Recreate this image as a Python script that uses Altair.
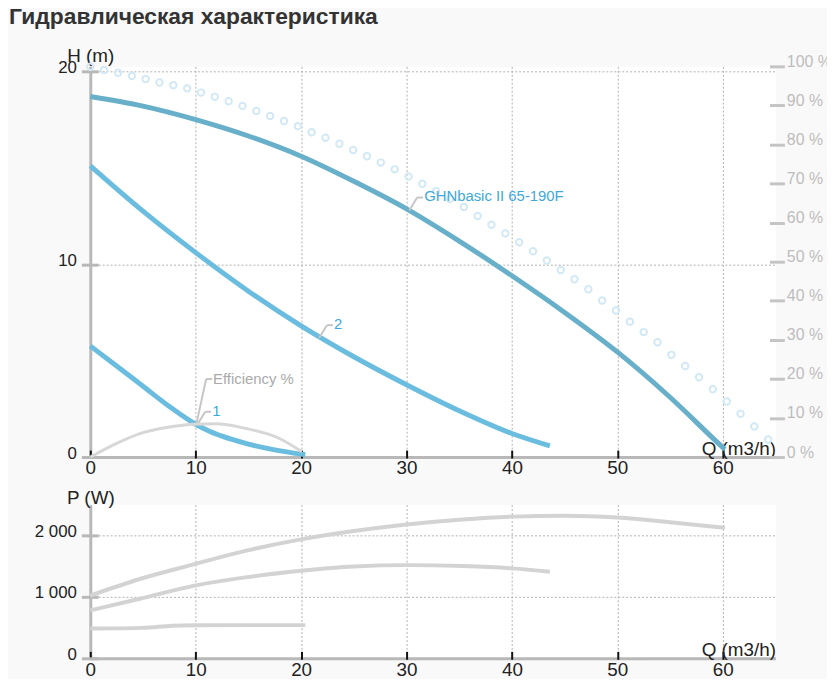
import altair as alt
import pandas as pd

FONT = "Liberation Sans"
TITLE = "Гидравлическая характеристика"

# ---------- top panel: Q (m3/h) vs H (m) ----------
main_q = [0, 5, 10, 15, 20, 25, 30, 35, 40, 45, 50, 55, 60, 60.2]
main_h = [18.7, 18.2, 17.5, 16.65, 15.6, 14.3, 12.87, 11.2, 9.4, 7.5, 5.45, 3.1, 0.5, 0.4]

c2_q = [0, 5, 10, 15, 20, 25, 30, 35, 40, 43.6]
c2_h = [15.1, 12.75, 10.6, 8.6, 6.8, 5.2, 3.75, 2.4, 1.22, 0.58]

c1_q = [0, 2.5, 5, 7.5, 10, 11.25, 12.5, 15, 17.5, 20, 20.4]
c1_h = [5.76, 4.72, 3.67, 2.62, 1.7, 1.35, 1.08, 0.67, 0.37, 0.15, 0.12]

eff_q = [0, 2.5, 4.7, 7.5, 9.9, 11.9, 14.7, 17.9, 20.07]
eff_pct = [0, 3.5, 6.0, 7.7, 8.4, 8.5, 7.35, 4.8, 1.35]

ring_q = [0.00, 1.31, 2.63, 3.94, 5.25, 6.56, 7.88, 9.19, 10.50, 11.81, 13.13, 14.44,
          15.75, 17.06, 18.38, 19.69, 21.00, 22.31, 23.63, 24.94, 26.25, 27.56, 28.88,
          30.19, 31.50, 32.81, 34.13, 35.44, 36.75, 38.06, 39.38, 40.69, 42.00, 43.31,
          44.63, 45.94, 47.25, 48.56, 49.88, 51.19, 52.50, 53.81, 55.13, 56.44, 57.75,
          59.06, 60.38, 61.69, 63.00, 64.31]
ring_h = [20.24, 20.07, 19.93, 19.76, 19.6, 19.42, 19.28, 19.12, 18.9, 18.68, 18.45, 18.21,
          17.95, 17.69, 17.43, 17.16, 16.84, 16.56, 16.25, 15.92, 15.6, 15.27, 14.92,
          14.55, 14.17, 13.8, 13.38, 12.97, 12.5, 12.05, 11.6, 11.14, 10.67, 10.19,
          9.7, 9.22, 8.7, 8.12, 7.6, 7.02, 6.48, 5.95, 5.3, 4.72, 4.14,
          3.52, 2.88, 2.24, 1.58, 0.91]

label_text = ["1", "2", "GHNbasic II 65-190F"]
label_q = [10.15, 21.7, 30.26]
label_h = [1.68, 6.17, 12.79]

eff_label_text = ["Efficiency %"]
eff_label_q = [10.05]
eff_label_h = [1.68]

# ---------- bottom panel: Q (m3/h) vs P (W) ----------
pa_q = [0, 4.7, 9.9, 14.7, 20, 25, 30, 35, 40, 45, 50, 55.2, 60.2]
pa_w = [1021, 1290, 1532, 1747, 1935, 2070, 2177, 2255, 2305, 2318, 2290, 2210, 2124]
pb_q = [0, 4.7, 9.9, 14.7, 20, 25, 30, 35.4, 40, 43.6]
pb_w = [779, 968, 1183, 1317, 1425, 1495, 1516, 1500, 1463, 1409]
pc_q = [0, 5, 7.8, 10, 15, 20.4]
pc_w = [484, 495, 530, 537, 540, 540]

x_ticks = [0, 10, 20, 30, 40, 50, 60]
h_ticks = [0, 10, 20]
pct_ticks = [0, 10, 20, 30, 40, 50, 60, 70, 80, 90, 100]
p_ticks = [0, 1000, 2000]

W = 691
H_TOP = 394
H_BOT = 155


def grid_props():
    return dict(
        grid=True,
        gridColor={"condition": {"test": "datum.value === 0", "value": "#b8b8b8"}, "value": "#b0b0b0"},
        gridWidth={"condition": {"test": "datum.value === 0", "value": 3}, "value": 1},
        gridDash={"condition": {"test": "datum.value === 0", "value": []}, "value": [2, 2]},
    )


def x_enc():
    return alt.X(
        "q:Q",
        scale=alt.Scale(domain=[0, 65], nice=False),
        title="Q (m3/h)",
        axis=alt.Axis(
            values=x_ticks, offset=-7, tickSize=8, tickColor="#111111", tickWidth=2,
            domain=False, labelPadding=1, labelFontSize=19, labelColor="#222222",
            labelFlush=False, titleX=W, titleY=4, titleAlign="right",
            titleBaseline="alphabetic", titleFontSize=19, titleFontWeight="normal",
            titleColor="#222222", **grid_props()),
    )


def y_left(field, ticks, domain, title, title_y, fmt_expr=None):
    kw = dict(
        values=ticks, offset=-8, tickSize=17, tickColor="#b8b8b8", tickWidth=3,
        domain=False, labelPadding=5, labelFontSize=17, labelColor="#222222",
        labelBaseline="alphabetic", labelOffset=1,
        titleX=-8, titleY=title_y, titleAngle=0, titleAlign="center",
        titleBaseline="alphabetic", titleFontSize=19, titleFontWeight="normal",
        titleColor="#222222", **grid_props())
    if fmt_expr:
        kw["labelExpr"] = fmt_expr
    return alt.Y(field, scale=alt.Scale(domain=domain, nice=False), title=title,
                 axis=alt.Axis(**kw))


def line_df(q, v, name):
    return pd.DataFrame({"q": q, name: v})


YH = lambda: y_left("h:Q", h_ticks, [0, 20.26], "H (m)", -5)

main_line = alt.Chart(line_df(main_q, main_h, "h")).mark_line(
    color="#68afca", strokeWidth=5, interpolate="monotone").encode(x=x_enc(), y=YH())
c2_line = alt.Chart(line_df(c2_q, c2_h, "h")).mark_line(
    color="#6bbde0", strokeWidth=5, interpolate="monotone").encode(x=x_enc(), y=YH())
c1_line = alt.Chart(line_df(c1_q, c1_h, "h")).mark_line(
    color="#6bbde0", strokeWidth=5, interpolate="monotone").encode(x=x_enc(), y=YH())
rings = alt.Chart(line_df(ring_q, ring_h, "h")).mark_point(
    shape="circle", filled=False, size=42, strokeWidth=2, color="#d2e9f5", opacity=1
).encode(x=x_enc(), y=YH())

lab_df = pd.DataFrame({"q": label_q, "h": label_h, "t": label_text})
lead1 = alt.Chart(lab_df).mark_rule(color="#c6c6c6", strokeWidth=2, x2Offset=8, y2Offset=-13).encode(
    x=x_enc(), y=YH(), x2="q:Q", y2="h:Q")
lead2 = alt.Chart(lab_df).mark_rule(color="#c6c6c6", strokeWidth=2, xOffset=8, yOffset=-13,
                                    x2Offset=14, y2Offset=-13).encode(
    x=x_enc(), y=YH(), x2="q:Q", y2="h:Q")
lab_txt = alt.Chart(lab_df).mark_text(align="left", baseline="middle", dx=15, dy=-14,
                                      fontSize=15, color="#3fa8da").encode(
    x=x_enc(), y=YH(), text="t:N")

eff_df = pd.DataFrame({"q": eff_label_q, "h": eff_label_h, "t": eff_label_text})
elead1 = alt.Chart(eff_df).mark_rule(color="#c6c6c6", strokeWidth=2, x2Offset=10, y2Offset=-46).encode(
    x=x_enc(), y=YH(), x2="q:Q", y2="h:Q")
elead2 = alt.Chart(eff_df).mark_rule(color="#c6c6c6", strokeWidth=2, xOffset=10, yOffset=-46,
                                     x2Offset=16, y2Offset=-46).encode(
    x=x_enc(), y=YH(), x2="q:Q", y2="h:Q")
etxt = alt.Chart(eff_df).mark_text(align="left", baseline="middle", dx=17, dy=-46,
                                   fontSize=15, color="#aaaaaa").encode(
    x=x_enc(), y=YH(), text="t:N")

title_txt = alt.Chart(pd.DataFrame({"t": [TITLE]})).mark_text(
    align="left", baseline="alphabetic", fontSize=23, fontWeight="bold", color="#333333"
).encode(x=alt.value(-82), y=alt.value(-43), text="t:N")

h_group = alt.layer(main_line, c2_line, c1_line, rings, elead1, elead2, etxt,
                    lead1, lead2, lab_txt, title_txt)

eff_line = alt.Chart(line_df(eff_q, eff_pct, "e")).mark_line(
    color="#d7d7d7", strokeWidth=3, interpolate="monotone").encode(
    x=x_enc(),
    y=alt.Y("e:Q", scale=alt.Scale(domain=[0, 100], nice=False), title=None,
            axis=alt.Axis(orient="right", values=pct_ticks, offset=-6, tickSize=15,
                          tickColor="#c4c4c4", tickWidth=3, domain=False, grid=False,
                          labelPadding=2, labelFontSize=16, labelColor="#bdbdbd",
                          labelBaseline="alphabetic", labelExpr="datum.value + ' %'")),
)

top = alt.layer(h_group, eff_line).resolve_scale(y="independent").properties(
    width=W, height=H_TOP)

YP = lambda: y_left("p:Q", p_ticks, [0, 2500], "P (W)", -1,
                    "replace(format(datum.value, ','), ',', ' ')")

pa = alt.Chart(line_df(pa_q, pa_w, "p")).mark_line(
    color="#d3d3d3", strokeWidth=4, interpolate="monotone").encode(x=x_enc(), y=YP())
pb = alt.Chart(line_df(pb_q, pb_w, "p")).mark_line(
    color="#d3d3d3", strokeWidth=4, interpolate="monotone").encode(x=x_enc(), y=YP())
pc = alt.Chart(line_df(pc_q, pc_w, "p")).mark_line(
    color="#d3d3d3", strokeWidth=4, interpolate="monotone").encode(x=x_enc(), y=YP())

bottom = alt.layer(pa, pb, pc).properties(width=W, height=H_BOT)

chart = alt.vconcat(top, bottom, spacing=48, bounds="flush").properties(
    padding={"left": 0, "top": -6, "right": -5, "bottom": -4},
    background="#f9f9f9",
).configure(font=FONT).configure_view(fill="white", stroke="transparent")

chart.save("out.html", embed_options={"renderer": "svg", "actions": False})
